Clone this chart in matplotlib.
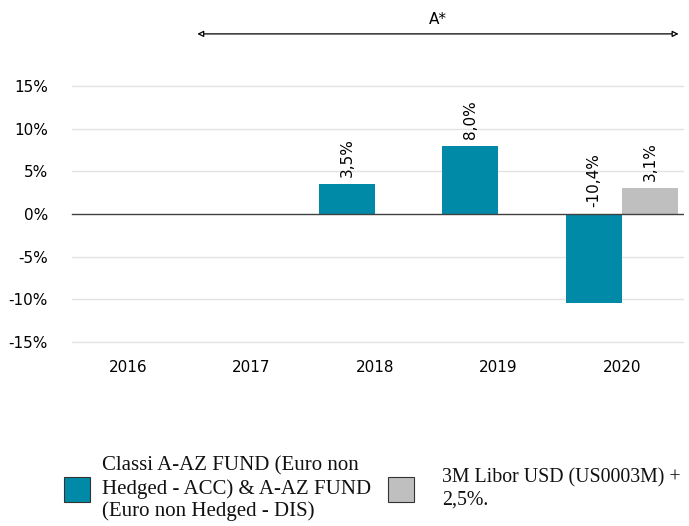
import matplotlib.pyplot as plt
import numpy as np
from matplotlib.patches import Rectangle

years = ["2016", "2017", "2018", "2019", "2020"]
fund = [np.nan, np.nan, 3.5, 8.0, -10.4]
bench = [np.nan, np.nan, np.nan, np.nan, 3.1]
fund_labels = ["", "", "3,5%", "8,0%", "-10,4%"]
bench_labels = ["", "", "", "", "3,1%"]
yticks = [-15, -10, -5, 0, 5, 10, 15]
legend_names = ["Classi A-AZ FUND (Euro non\nHedged - ACC) & A-AZ FUND\n(Euro non Hedged - DIS)",
                "3M Libor USD (US0003M) +\n2,5%."]

TEAL = "#008AA8"
GREY = "#BFBFBF"

fig = plt.figure(figsize=(6.89, 5.26), dpi=100)
W, H = 689, 526
left, right, top, bottom = 66.5, 683.5, 83.4, 344.6
ax = fig.add_axes([left / W, 1 - bottom / H, (right - left) / W, (bottom - top) / H])

x = np.arange(len(years))
w = 0.455
ax.bar(x - w / 2, fund, w, color=TEAL, zorder=3)
ax.bar(x + w / 2, bench, w, color=GREY, zorder=3)

for i in range(len(years)):
    if fund_labels[i]:
        yv = max(fund[i], 0)
        ax.annotate(fund_labels[i], (x[i] - w / 2, yv), xytext=(0, 5), textcoords="offset points",
                    rotation=90, ha="center", va="bottom", fontsize=11)
    if bench_labels[i]:
        yv = max(bench[i], 0)
        ax.annotate(bench_labels[i], (x[i] + w / 2, yv), xytext=(0, 5), textcoords="offset points",
                    rotation=90, ha="center", va="bottom", fontsize=11)

ax.set_xlim(-0.5, 4.5)
ax.set_ylim(-15.3, 15.3)
ax.set_xticks(x)
ax.set_xticklabels(years, fontsize=11)
ax.set_yticks(yticks)
ax.set_yticklabels([f"{t}%" for t in yticks], fontsize=11)
ax.tick_params(length=0, pad=11)
ax.tick_params(axis="y", pad=13.3)
for s in ax.spines.values():
    s.set_visible(False)
for t in yticks:
    if t != 0:
        ax.axhline(t, color="#E3E3E3", lw=1, xmin=0.009, zorder=1)
ax.axhline(0, color="#404040", lw=1, xmin=0.009, zorder=4)

# period arrow
ax.annotate("", xy=(4.46, 21.1), xytext=(0.56, 21.1), annotation_clip=False,
            arrowprops=dict(arrowstyle="<|-|>", fc="white", ec="black", lw=0.9,
                            shrinkA=0, shrinkB=0, mutation_scale=9))
ax.text(2.51, 22.8, "A*", ha="center", va="center", fontsize=11, clip_on=False)

# legend drawn by hand (pixel positions)
fig.add_artist(Rectangle((64 / W, 1 - 502 / H), 26 / W, 25 / H, transform=fig.transFigure,
                         facecolor=TEAL, edgecolor="#333333", lw=0.8))
fig.text(102 / W, 1 - 489 / H, legend_names[0], va="center", ha="left",
         linespacing=1.2, color="#111111", family="Liberation Serif", size=15)
fig.add_artist(Rectangle((388 / W, 1 - 502 / H), 26 / W, 25 / H, transform=fig.transFigure,
                         facecolor=GREY, edgecolor="#333333", lw=0.8))
fig.text(442 / W, 1 - 489 / H, legend_names[1], va="center", ha="left",
         linespacing=1.24, color="#111111", family="Liberation Serif", size=14.3)

fig.savefig("out.png", dpi=100)
